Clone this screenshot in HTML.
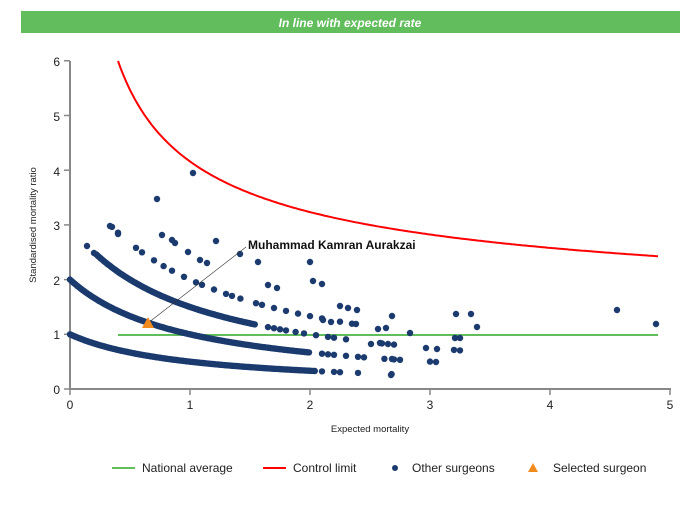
<!DOCTYPE html>
<html><head><style>
body{margin:0;background:#fff;font-family:"Liberation Sans",sans-serif;}
</style></head><body>
<svg id="s" width="700" height="500" xmlns="http://www.w3.org/2000/svg" font-family="Liberation Sans, sans-serif">
<rect x="21" y="11" width="659" height="22" fill="#62bd5d"/>
<text x="350" y="27" text-anchor="middle" fill="#fff" font-size="12" font-weight="bold" font-style="italic">In line with expected rate</text>
<g stroke="#888" stroke-width="2">
<line x1="70" y1="61" x2="70" y2="390"/>
<line x1="69" y1="389" x2="671" y2="389"/>
</g>
<g stroke="#888" stroke-width="1.5" id="ticks"></g>
<g font-size="12" fill="#222" text-anchor="end">
<text x="60" y="66">6</text><text x="60" y="121">5</text><text x="60" y="176">4</text><text x="60" y="230">3</text><text x="60" y="285">2</text><text x="60" y="339">1</text><text x="60" y="394">0</text>
</g>
<g font-size="12" fill="#222" text-anchor="middle">
<text x="70" y="409">0</text><text x="190" y="409">1</text><text x="310" y="409">2</text><text x="430" y="409">3</text><text x="550" y="409">4</text><text x="670" y="409">5</text>
</g>
<text x="370" y="432" font-size="9.5" text-anchor="middle" fill="#222">Expected mortality</text>
<text transform="translate(36,225) rotate(-90)" font-size="9.5" text-anchor="middle" fill="#222">Standardised mortality ratio</text>
<line x1="118" y1="335" x2="658" y2="335" stroke="#62bd5d" stroke-width="2"/>
<path id="cl" fill="none" stroke="#f00" stroke-width="2"/>
<g id="dots" fill="#1b3a6e"></g>
<line x1="148" y1="323" x2="246" y2="247" stroke="#333" stroke-width="0.6"/>
<polygon points="148,317 142,328 154,328" fill="#f28a1e"/>
<text x="248" y="249" font-size="12" font-weight="bold" fill="#111">Muhammad Kamran Aurakzai</text>
<g font-size="12" fill="#222">
<line x1="112" y1="468" x2="135" y2="468" stroke="#62bd5d" stroke-width="2"/>
<text x="142" y="472">National average</text>
<line x1="263" y1="468" x2="286" y2="468" stroke="#f00" stroke-width="2"/>
<text x="293" y="472">Control limit</text>
<circle cx="395" cy="468" r="3" fill="#1b3a6e"/>
<text x="412" y="472">Other surgeons</text>
<polygon points="533,463 528,472 538,472" fill="#f28a1e"/>
<text x="553" y="472">Selected surgeon</text>
</g>
</svg>
<script>
var X=e=>70+e*120, Y=v=>389-v*54.7;
var t=document.getElementById('ticks'),h='';
for(var i=0;i<=6;i++)h+=`<line x1="64" y1="${Y(i)}" x2="70" y2="${Y(i)}"/>`;
for(var i=0;i<=5;i++)h+=`<line x1="${X(i)}" y1="389" x2="${X(i)}" y2="395"/>`;
t.innerHTML=h;
var d='';for(var e=0.4;e<=4.9;e+=0.02){d+=(d?'L':'M')+X(e).toFixed(1)+','+Y(1+3.16/Math.sqrt(e)).toFixed(1);}
document.getElementById('cl').setAttribute('d',d);
var g='',c=(x,y)=>g+=`<circle cx="${x.toFixed(1)}" cy="${y.toFixed(1)}" r="3.2"/>`;
function curve(o,a,b,st){for(var e=a;e<=b;e+=st)c(X(e),Y((o+1)/(e+1)));}
curve(0,0,2.05,0.012);[2.1,2.2,2.25,2.4,2.68].forEach(e=>c(X(e),Y(1/(e+1))));
curve(1,0,2.0,0.012);[2.1,2.15,2.2,2.3,2.4,2.45,2.62,2.7,2.75,3.0,3.05].forEach(e=>c(X(e),Y(2/(e+1))));
curve(2,0.22,1.55,0.012);[1.65,1.7,1.75,1.8,1.88,1.95,2.05,2.15,2.2,2.3,2.6,2.65,2.7,3.2,3.25].forEach(e=>c(X(e),Y(3/(e+1))));
[0.35,0.4,0.55,0.6,0.7,0.78,0.85,0.95,1.05,1.1,1.2,1.3,1.35,1.42,1.55,1.6,1.7,1.8,1.9,2.0,2.1,2.25,2.35].forEach(e=>c(X(e),Y(4/(e+1))));
[[87,246],[94,253],[110,226],[118,234],[157,199],[193,173],[162,235],[172,240],[175,243],[188,252],[216,241],[200,260],[207,263],[240,254],[258,262],[268,285],[277,288],[310,262],[313,281],[322,284],[323,320],[331,322],[340,306],[348,308],[357,310],[356,324],[378,329],[386,328],[392,316],[410,333],[456,314],[455,338],[460,338],[471,314],[477,327],[617,310],[656,324],[426,348],[437,349],[391,375],[392,359],[371,344],[380,343]].forEach(p=>c(p[0],p[1]));
document.getElementById('dots').innerHTML=g;
</script>
</body></html>
